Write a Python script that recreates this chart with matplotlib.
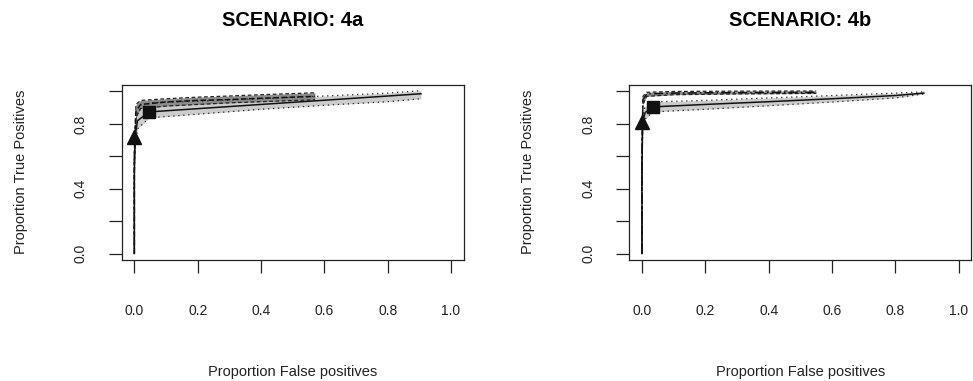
import numpy as np
import matplotlib.pyplot as plt

plt.rcParams['font.family'] = ['Liberation Sans', 'DejaVu Sans']

# ---- scenario 4a ----
fpr_a1 = [0, 0, 0.002, 0.01, 0.047, 0.2, 0.4, 0.6, 0.8, 0.905]
tpr_a1 = [0, 0.5, 0.72, 0.82, 0.874, 0.894, 0.92, 0.946, 0.972, 0.986]
lo_a1 = [0, 0.45, 0.66, 0.77, 0.837, 0.86, 0.89, 0.915, 0.937, 0.955]
hi_a1 = [0, 0.55, 0.78, 0.88, 0.93, 0.94, 0.955, 0.972, 0.99, 1.005]

fpr_a2 = [0, 0, 0.005, 0.02, 0.1, 0.2, 0.3, 0.4, 0.5, 0.57]
tpr_a2 = [0, 0.6, 0.88, 0.92, 0.935, 0.945, 0.95, 0.958, 0.965, 0.97]
lo_a2 = [0, 0.55, 0.84, 0.895, 0.91, 0.92, 0.93, 0.937, 0.944, 0.949]
hi_a2 = [0, 0.65, 0.92, 0.945, 0.955, 0.965, 0.972, 0.98, 0.987, 0.992]

tri_a = (0.0, 0.72)
sq_a = (0.047, 0.874)

# ---- scenario 4b ----
fpr_b1 = [0, 0, 0.002, 0.01, 0.035, 0.2, 0.4, 0.6, 0.8, 0.89]
tpr_b1 = [0, 0.5, 0.81, 0.87, 0.905, 0.92, 0.937, 0.955, 0.975, 0.99]
lo_b1 = [0, 0.45, 0.76, 0.83, 0.874, 0.89, 0.912, 0.935, 0.96, 0.985]
hi_b1 = [0, 0.55, 0.86, 0.91, 0.936, 0.945, 0.96, 0.975, 0.99, 0.998]

fpr_b2 = [0, 0, 0.003, 0.015, 0.1, 0.3, 0.55]
tpr_b2 = [0, 0.6, 0.95, 0.985, 0.99, 0.993, 0.995]
lo_b2 = [0, 0.55, 0.92, 0.97, 0.98, 0.985, 0.988]
hi_b2 = [0, 0.65, 0.97, 0.995, 1.0, 1.002, 1.003]

tri_b = (0.0, 0.81)
sq_b = (0.035, 0.905)

titles = ['SCENARIO: 4a', 'SCENARIO: 4b']
xticks = [0.0, 0.2, 0.4, 0.6, 0.8, 1.0]
yticks = [0.0, 0.2, 0.4, 0.6, 0.8, 1.0]
ylabels = ['0.0', '', '0.4', '', '0.8', '']

fig = plt.figure(figsize=(9.73, 3.81), dpi=100)
W, H = 973, 381
lefts = [121.7, 629.3]
bw = 342.0

panels = [
    (fpr_a1, tpr_a1, lo_a1, hi_a1, fpr_a2, tpr_a2, lo_a2, hi_a2, tri_a, sq_a, '--'),
    (fpr_b1, tpr_b1, lo_b1, hi_b1, fpr_b2, tpr_b2, lo_b2, hi_b2, tri_b, sq_b, (0, (6, 2, 1, 2))),
]

for i, p in enumerate(panels):
    f1, t1, l1, h1, f2, t2, l2, h2, tri, sq, ls2 = p
    ax = fig.add_axes([lefts[i] / W, 1 - 260 / H, bw / W, 175 / H])
    # band of curve 1 (light), then curve 2 (dark)
    ax.fill_between(f1, l1, h1, color='#cccccc', lw=0, zorder=1)
    ax.fill_between(f2, l2, h2, color='#8c8c8c', lw=0, zorder=2)
    ax.plot(f1, l1, color='#222222', lw=0.9, ls=(0, (1, 3)), zorder=3)
    ax.plot(f1, h1, color='#222222', lw=0.9, ls=(0, (1, 3)), zorder=3)
    ax.plot(f2, l2, color='#222222', lw=0.9, ls='--', dashes=(3, 2), zorder=3)
    ax.plot(f2, h2, color='#222222', lw=0.9, ls='--', dashes=(3, 2), zorder=3)
    ax.plot(f2, t2, color='#111111', lw=1.1, ls=ls2, zorder=4)
    ax.plot(f1, t1, color='#111111', lw=1.1, zorder=4)
    ax.plot(*tri, marker='^', ms=10, color='#111111', zorder=5)
    ax.plot(*sq, marker='s', ms=8.5, color='#111111', zorder=5)

    ax.set_xlim(-0.04, 1.04)
    ax.set_ylim(-0.04, 1.04)
    ax.set_xticks(xticks)
    ax.set_xticklabels(['%.1f' % v for v in xticks])
    ax.set_yticks(yticks)
    ax.set_yticklabels(ylabels, rotation=90, va='center')
    ax.tick_params(direction='out', length=9.5, width=0.9, labelsize=10,
                   color='#222222', labelcolor='#222222')
    ax.tick_params(axis='x', pad=22)
    ax.tick_params(axis='y', pad=15)
    for s in ax.spines.values():
        s.set_linewidth(0.9)
        s.set_color('#222222')

    cx = (lefts[i] + bw / 2) / W
    fig.text(cx, 1 - 21 / H, titles[i], ha='center', va='center',
             fontsize=14.5, fontweight='bold')
    fig.text(cx, 1 - 372 / H, 'Proportion False positives', ha='center',
             va='center', fontsize=10.5, color='#222222')
    fig.text((lefts[i] - 101) / W, 1 - 172 / H, 'Proportion True Positives',
             ha='center', va='center', rotation=90, fontsize=10.5,
             color='#222222')

fig.savefig('out.png', dpi=100)
